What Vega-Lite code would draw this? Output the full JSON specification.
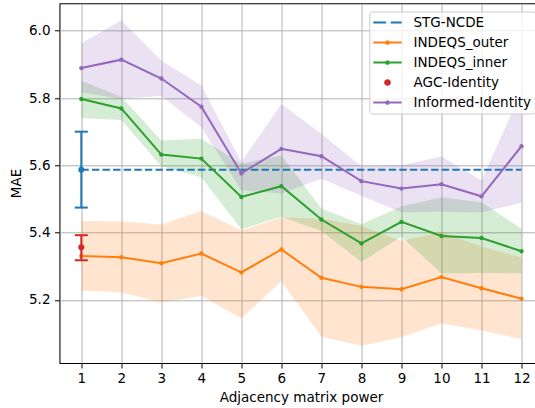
{
  "$schema": "https://vega.github.io/schema/vega-lite/v6.json",
  "width": 478,
  "height": 359.7,
  "autosize": {"type": "none"},
  "padding": {"left": 59.5, "top": 3.3, "right": 0, "bottom": 45},
  "background": "white",
  "resolve": {"legend": {"color": "independent", "shape": "independent"}, "axis": {"y": "independent"}},
  "config": {
    "font": "DejaVu Sans",
    "view": {"stroke": "#000000", "strokeWidth": 1.05},
    "axis": {
      "domain": false,
      "grid": true,
      "gridColor": "#b0b0b0",
      "gridWidth": 1,
      "gridOpacity": 1,
      "tickColor": "#000000",
      "tickSize": 5,
      "tickWidth": 1,
      "labelColor": "#000000",
      "labelFontSize": 13.5,
      "titleFontSize": 13.5,
      "titleFontWeight": "normal",
      "titleColor": "#000000"
    }
  },
  "datasets": {
    "bands": [
      {"series": "INDEQS_outer", "x": 1, "mean": 5.331, "lo": 5.228, "hi": 5.435},
      {"series": "INDEQS_outer", "x": 2, "mean": 5.327, "lo": 5.222, "hi": 5.433},
      {"series": "INDEQS_outer", "x": 3, "mean": 5.309, "lo": 5.193, "hi": 5.424},
      {"series": "INDEQS_outer", "x": 4, "mean": 5.338, "lo": 5.212, "hi": 5.464},
      {"series": "INDEQS_outer", "x": 5, "mean": 5.282, "lo": 5.146, "hi": 5.407},
      {"series": "INDEQS_outer", "x": 6, "mean": 5.350, "lo": 5.256, "hi": 5.445},
      {"series": "INDEQS_outer", "x": 7, "mean": 5.266, "lo": 5.091, "hi": 5.441},
      {"series": "INDEQS_outer", "x": 8, "mean": 5.239, "lo": 5.064, "hi": 5.420},
      {"series": "INDEQS_outer", "x": 9, "mean": 5.232, "lo": 5.089, "hi": 5.375},
      {"series": "INDEQS_outer", "x": 10, "mean": 5.268, "lo": 5.131, "hi": 5.402},
      {"series": "INDEQS_outer", "x": 11, "mean": 5.235, "lo": 5.109, "hi": 5.359},
      {"series": "INDEQS_outer", "x": 12, "mean": 5.204, "lo": 5.084, "hi": 5.326},
      {"series": "INDEQS_inner", "x": 1, "mean": 5.797, "lo": 5.741, "hi": 5.851},
      {"series": "INDEQS_inner", "x": 2, "mean": 5.769, "lo": 5.735, "hi": 5.803},
      {"series": "INDEQS_inner", "x": 3, "mean": 5.632, "lo": 5.597, "hi": 5.674},
      {"series": "INDEQS_inner", "x": 4, "mean": 5.620, "lo": 5.565, "hi": 5.679},
      {"series": "INDEQS_inner", "x": 5, "mean": 5.506, "lo": 5.410, "hi": 5.605},
      {"series": "INDEQS_inner", "x": 6, "mean": 5.538, "lo": 5.447, "hi": 5.629},
      {"series": "INDEQS_inner", "x": 7, "mean": 5.439, "lo": 5.405, "hi": 5.472},
      {"series": "INDEQS_inner", "x": 8, "mean": 5.368, "lo": 5.313, "hi": 5.425},
      {"series": "INDEQS_inner", "x": 9, "mean": 5.432, "lo": 5.388, "hi": 5.478},
      {"series": "INDEQS_inner", "x": 10, "mean": 5.390, "lo": 5.279, "hi": 5.505},
      {"series": "INDEQS_inner", "x": 11, "mean": 5.384, "lo": 5.280, "hi": 5.490},
      {"series": "INDEQS_inner", "x": 12, "mean": 5.345, "lo": 5.279, "hi": 5.412},
      {"series": "Informed-Identity", "x": 1, "mean": 5.889, "lo": 5.817, "hi": 5.962},
      {"series": "Informed-Identity", "x": 2, "mean": 5.914, "lo": 5.797, "hi": 6.031},
      {"series": "Informed-Identity", "x": 3, "mean": 5.858, "lo": 5.807, "hi": 5.911},
      {"series": "Informed-Identity", "x": 4, "mean": 5.774, "lo": 5.713, "hi": 5.837},
      {"series": "Informed-Identity", "x": 5, "mean": 5.576, "lo": 5.526, "hi": 5.610},
      {"series": "Informed-Identity", "x": 6, "mean": 5.649, "lo": 5.516, "hi": 5.782},
      {"series": "Informed-Identity", "x": 7, "mean": 5.627, "lo": 5.560, "hi": 5.694},
      {"series": "Informed-Identity", "x": 8, "mean": 5.553, "lo": 5.510, "hi": 5.597},
      {"series": "Informed-Identity", "x": 9, "mean": 5.531, "lo": 5.461, "hi": 5.600},
      {"series": "Informed-Identity", "x": 10, "mean": 5.544, "lo": 5.462, "hi": 5.626},
      {"series": "Informed-Identity", "x": 11, "mean": 5.508, "lo": 5.460, "hi": 5.555},
      {"series": "Informed-Identity", "x": 12, "mean": 5.657, "lo": 5.489, "hi": 5.820}
    ],
    "single": [
      {"series": "STG-NCDE", "x": 1, "x_end": 12, "mean": 5.587, "lo": 5.4745, "hi": 5.700},
      {"series": "AGC-Identity", "x": 1, "mean": 5.357, "lo": 5.318, "hi": 5.3925}
    ],
    "names": [
      {"series": "STG-NCDE"},
      {"series": "INDEQS_outer"},
      {"series": "INDEQS_inner"},
      {"series": "AGC-Identity"},
      {"series": "Informed-Identity"}
    ]
  },
  "encoding": {
    "x": {
      "field": "x",
      "type": "quantitative",
      "scale": {"domain": [0.455, 12.4], "nice": false, "zero": false},
      "axis": {
        "title": "Adjacency matrix power",
        "values": [1, 2, 3, 4, 5, 6, 7, 8, 9, 10, 11, 12],
        "format": "d",
        "labelPadding": 3,
        "labelFlush": false,
        "titleX": 241.5,
        "titleY": 38,
        "titleBaseline": "alphabetic"
      }
    }
  },
  "layer": [
    {
      "data": {"name": "bands"},
      "mark": {"type": "area", "opacity": 0.2},
      "encoding": {
        "y": {
          "field": "lo",
          "type": "quantitative",
          "stack": null,
          "scale": {"domain": [5.0128, 6.0814], "nice": false, "zero": false},
          "axis": {
            "title": "MAE",
            "values": [5.2, 5.4, 5.6, 5.8, 6.0],
            "format": ".1f",
            "labelPadding": 4.5,
            "titleX": -39.5,
            "titleY": 179.7,
            "titleAngle": 270,
            "titleBaseline": "alphabetic"
          }
        },
        "y2": {"field": "hi"},
        "color": {
          "field": "series",
          "type": "nominal",
          "scale": {
            "domain": ["STG-NCDE", "INDEQS_outer", "INDEQS_inner", "AGC-Identity", "Informed-Identity"],
            "range": ["#1f77b4", "#ff7f0e", "#2ca02c", "#d62728", "#9467bd"]
          },
          "legend": null
        }
      }
    },
    {
      "data": {"name": "single"},
      "transform": [{"filter": "datum.series === 'STG-NCDE'"}],
      "mark": {"type": "rule", "strokeWidth": 2, "strokeDash": [7.4, 3.2]},
      "encoding": {
        "x2": {"field": "x_end"},
        "y": {"field": "mean", "type": "quantitative", "scale": {"domain": [5.0128, 6.0814], "nice": false, "zero": false}, "axis": null},
        "color": {"field": "series", "type": "nominal", "legend": null}
      }
    },
    {
      "data": {"name": "bands"},
      "mark": {"type": "line", "strokeWidth": 2},
      "encoding": {
        "y": {"field": "mean", "type": "quantitative", "scale": {"domain": [5.0128, 6.0814], "nice": false, "zero": false}, "axis": null},
        "color": {"field": "series", "type": "nominal", "legend": null}
      }
    },
    {
      "data": {"name": "bands"},
      "mark": {"type": "point", "filled": true, "opacity": 1, "size": 19},
      "encoding": {
        "y": {"field": "mean", "type": "quantitative", "scale": {"domain": [5.0128, 6.0814], "nice": false, "zero": false}, "axis": null},
        "color": {"field": "series", "type": "nominal", "legend": null}
      }
    },
    {
      "data": {"name": "single"},
      "mark": {"type": "rule", "strokeWidth": 2},
      "encoding": {
        "y": {"field": "lo", "type": "quantitative", "scale": {"domain": [5.0128, 6.0814], "nice": false, "zero": false}, "axis": null},
        "y2": {"field": "hi"},
        "color": {"field": "series", "type": "nominal", "legend": null}
      }
    },
    {
      "data": {"name": "single"},
      "mark": {"type": "tick", "orient": "horizontal", "size": 13, "thickness": 2, "opacity": 1},
      "encoding": {
        "y": {"field": "lo", "type": "quantitative", "scale": {"domain": [5.0128, 6.0814], "nice": false, "zero": false}, "axis": null},
        "color": {"field": "series", "type": "nominal", "legend": null}
      }
    },
    {
      "data": {"name": "single"},
      "mark": {"type": "tick", "orient": "horizontal", "size": 13, "thickness": 2, "opacity": 1},
      "encoding": {
        "y": {"field": "hi", "type": "quantitative", "scale": {"domain": [5.0128, 6.0814], "nice": false, "zero": false}, "axis": null},
        "color": {"field": "series", "type": "nominal", "legend": null}
      }
    },
    {
      "data": {"name": "single"},
      "mark": {"type": "point", "filled": true, "opacity": 1, "size": 36},
      "encoding": {
        "y": {"field": "mean", "type": "quantitative", "scale": {"domain": [5.0128, 6.0814], "nice": false, "zero": false}, "axis": null},
        "color": {"field": "series", "type": "nominal", "legend": null}
      }
    },
    {
      "data": {"name": "names"},
      "mark": {"type": "point", "filled": true, "opacity": 1},
      "encoding": {
        "color": {
          "field": "series",
          "type": "nominal",
          "legend": {
            "title": null,
            "orient": "none",
            "legendX": 309.8,
            "legendY": 8.2,
            "symbolSize": 196,
            "symbolStrokeWidth": 0,
            "symbolOpacity": 1,
            "symbolOffset": 7.2,
            "labelOffset": 19,
            "labelFontSize": 13.5,
            "labelColor": "#000000",
            "labelLimit": 300,
            "padding": 4,
            "rowPadding": 6,
            "fillColor": "rgba(255,255,255,0.8)",
            "strokeColor": "#cccccc",
            "cornerRadius": 3
          }
        },
        "shape": {
          "field": "series",
          "type": "nominal",
          "scale": {
            "domain": ["STG-NCDE", "INDEQS_outer", "INDEQS_inner", "AGC-Identity", "Informed-Identity"],
            "range": [
              "M-2.029,-0.143H-0.214V0.143H-2.029ZM0.457,-0.143H2.029V0.143H0.457Z",
              "M-2.029,-0.143H2.029V0.143H-2.029ZM0.336,0A0.336,0.336 0 1,1 -0.336,0A0.336,0.336 0 1,1 0.336,0Z",
              "M-2.029,-0.143H2.029V0.143H-2.029ZM0.336,0A0.336,0.336 0 1,1 -0.336,0A0.336,0.336 0 1,1 0.336,0Z",
              "M0.479,0A0.479,0.479 0 1,1 -0.479,0A0.479,0.479 0 1,1 0.479,0Z",
              "M-2.029,-0.143H2.029V0.143H-2.029ZM0.336,0A0.336,0.336 0 1,1 -0.336,0A0.336,0.336 0 1,1 0.336,0Z"
            ]
          },
          "legend": {
            "title": null,
            "orient": "none",
            "legendX": 309.8,
            "legendY": 8.2,
            "symbolSize": 196,
            "symbolStrokeWidth": 0,
            "symbolOpacity": 1,
            "symbolOffset": 7.2,
            "labelOffset": 19,
            "labelFontSize": 13.5,
            "labelColor": "#000000",
            "labelLimit": 300,
            "padding": 4,
            "rowPadding": 6,
            "fillColor": "rgba(255,255,255,0.8)",
            "strokeColor": "#cccccc",
            "cornerRadius": 3
          }
        }
      }
    }
  ]
}
